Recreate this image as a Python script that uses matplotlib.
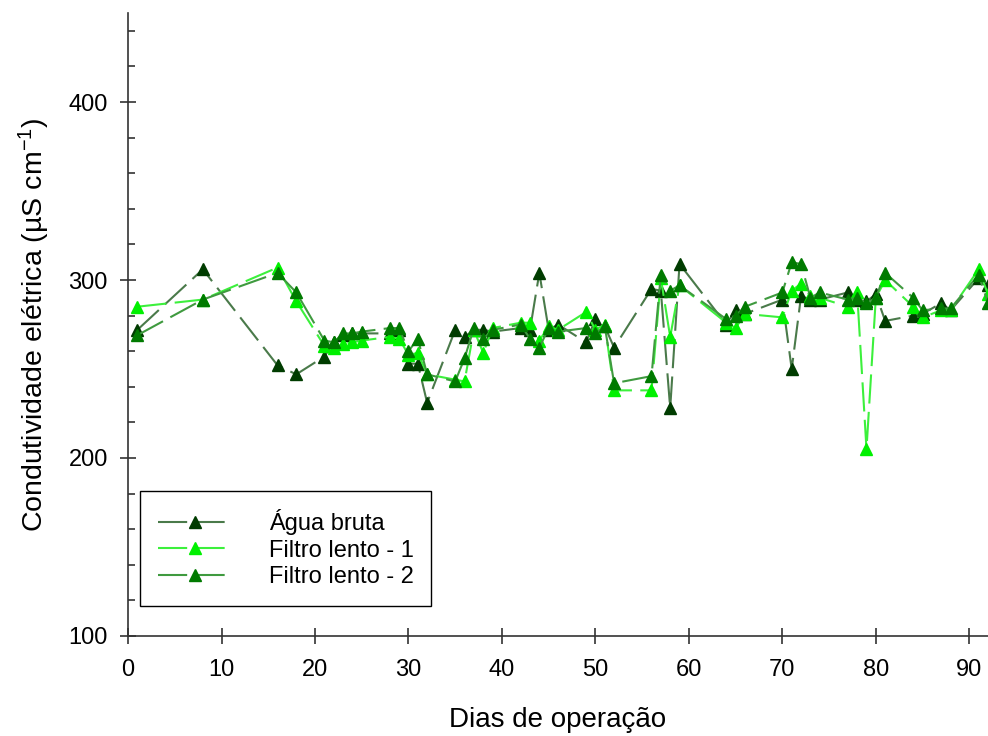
import matplotlib
matplotlib.use("Agg")
import matplotlib.pyplot as plt
from matplotlib.ticker import MultipleLocator

plt.rcParams["font.family"] = ["Liberation Sans", "DejaVu Sans"]
plt.rcParams["mathtext.default"] = "regular"

# Água bruta
dias_bruta = [1, 8, 16, 18, 21, 22, 23, 24, 25, 28, 29, 30, 31, 32, 35, 36, 37, 38, 39,
              42, 43, 44, 45, 46, 49, 50, 51, 52, 56, 57, 58, 59, 64, 65, 66, 70, 71,
              72, 73, 74, 77, 78, 79, 80, 81, 84, 85, 87, 88, 91, 92]
ce_bruta = [272, 306, 252, 247, 257, 265, 269, 270, 270, 270, 272, 253, 253, 231, 272,
            268, 272, 272, 271, 273, 272, 304, 272, 275, 265, 278, 274, 262, 295, 294,
            228, 309, 275, 283, 281, 289, 250, 291, 289, 289, 293, 289, 288, 292, 277,
            280, 281, 287, 283, 301, 297]

# Filtro lento - 1
dias_f1 = [1, 8, 16, 18, 21, 22, 23, 24, 25, 28, 29, 30, 31, 32, 35, 36, 37, 38, 39,
           42, 43, 44, 45, 46, 49, 50, 51, 52, 56, 57, 58, 59, 64, 65, 66, 70, 71,
           72, 73, 74, 77, 78, 79, 80, 81, 84, 85, 87, 88, 91, 92]
ce_f1 = [285, 289, 307, 288, 263, 262, 264, 265, 266, 268, 267, 258, 259, 247, 244,
         243, 272, 259, 273, 276, 276, 266, 274, 272, 282, 272, 275, 238, 238, 301,
         268, 297, 276, 273, 281, 279, 294, 298, 291, 290, 285, 293, 205, 290, 300,
         285, 279, 283, 283, 306, 292]

# Filtro lento - 2
dias_f2 = [1, 8, 16, 18, 21, 22, 23, 24, 25, 28, 29, 30, 31, 32, 35, 36, 37, 38, 39,
           42, 43, 44, 45, 46, 49, 50, 51, 52, 56, 57, 58, 59, 64, 65, 66, 70, 71,
           72, 73, 74, 77, 78, 79, 80, 81, 84, 85, 87, 88, 91, 92]
ce_f2 = [269, 289, 304, 293, 266, 265, 270, 270, 271, 273, 273, 260, 267, 247, 243,
         256, 273, 267, 272, 275, 267, 262, 273, 271, 273, 270, 274, 242, 246, 303,
         294, 297, 278, 280, 285, 293, 310, 309, 290, 293, 289, 290, 287, 290, 304,
         290, 283, 284, 284, 303, 287]

series = [
    ("Água bruta", dias_bruta, ce_bruta, "#4a7a4a", "#003c00"),
    ("Filtro lento - 1", dias_f1, ce_f1, "#3cf03c", "#00f000"),
    ("Filtro lento - 2", dias_f2, ce_f2, "#3f9a3f", "#007a00"),
]

fig = plt.figure(figsize=(9.88, 7.36), dpi=100)
ax = fig.add_axes([0.1296, 0.1359, 0.8704, 0.8464])

for nome, x, y, cor_linha, cor_marc in series:
    ax.plot(x, y, linestyle=(0, (14, 4)), lw=1.5, color=cor_linha,
            marker="^", markersize=9, markerfacecolor=cor_marc,
            markeredgecolor=cor_marc, label=nome)

ax.set_xlim(0, 92)
ax.set_ylim(100, 450)
ax.xaxis.set_major_locator(MultipleLocator(10))
ax.yaxis.set_minor_locator(MultipleLocator(20))
ax.set_yticks([100, 200, 300, 400])

ax.spines["top"].set_visible(False)
ax.spines["right"].set_visible(False)
for s in ("left", "bottom"):
    ax.spines[s].set_linewidth(1.2)
    ax.spines[s].set_color("#333333")

ax.tick_params(which="major", direction="inout", length=11, width=1.2,
               labelsize=17, color="#333333")
ax.tick_params(which="minor", direction="in", length=5, width=1.2, color="#333333")
ax.tick_params(axis="x", which="major", pad=11)
ax.tick_params(axis="y", which="major", pad=9)

ax.set_xlabel("Dias de operação", fontsize=20, labelpad=19)
ax.set_ylabel("Condutividade elétrica (µS cm$^{-1}$)", fontsize=20.5, labelpad=12)

leg = ax.legend(loc="lower left", bbox_to_anchor=(140 / 988, 130 / 736),
                bbox_transform=fig.transFigure, fontsize=17, frameon=True,
                fancybox=False, edgecolor="black", framealpha=1,
                handlelength=3.2, handletextpad=1.5, labelspacing=0.2,
                borderpad=0.75, borderaxespad=0)
leg.get_frame().set_linewidth(1.0)

fig.savefig("out.png", dpi=100)
